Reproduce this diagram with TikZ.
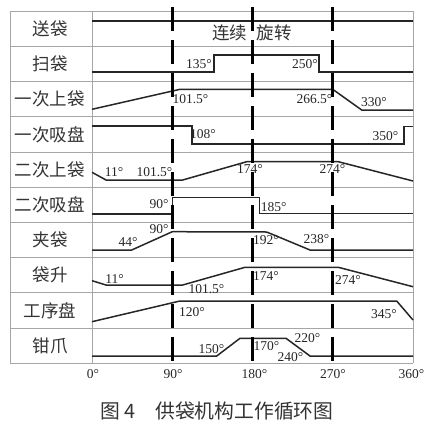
\documentclass[tikz,border=0pt]{standalone}
\usepackage{fontspec}
\setmainfont{Liberation Serif}
\newfontfamily\cjk{Noto Sans CJK SC}
\begin{document}
\begin{tikzpicture}[x=1pt,y=-1pt,
  grid/.style={draw=black!35, line width=0.7pt},
  sig/.style={draw=black!85, line width=1.5pt, line join=miter},
  phase/.style={draw=black, line width=3.2pt, dash pattern=on 24pt off 9pt},
  deg/.style={font=\fontsize{13.5}{14}\selectfont, inner sep=0pt, text=black!85},
  rowlab/.style={font=\cjk\fontsize{17.5}{18}\selectfont, inner sep=0pt, text=black!80},
  caplab/.style={font=\cjk\fontsize{19.8}{21}\selectfont, inner sep=0pt, text=black!80, anchor=west},
]
\useasboundingbox (0,0) rectangle (431,437);
% table grid
\foreach \k in {0,...,10} \draw[grid] (10,{11+35.23*\k}) -- (413,{11+35.23*\k});
\draw[grid] (10,11) -- (10,363.3);
\draw[grid] (92,11) -- (92,363.3);
\draw[grid] (413,11) -- (413,363.3);
% row labels
\foreach \t [count=\i from 0] in {送袋,扫袋,一次上袋,一次吸盘,二次上袋,二次吸盘,夹袋,袋升,工序盘,钳爪}
  \node[rowlab] (row\i) at (50,{11+35.23*(\i+0.5)}) {\t};
% signals
\draw[sig] (92,21) -- (413,21);
\draw[sig] (92,72) -- (214,72) -- (214,55) -- (319,55) -- (319,72) -- (413,72);
\draw[sig] (92,109.3) -- (180,89.3) -- (332.7,89.3) -- (361.7,110) -- (413,110);
\draw[sig] (92,126) -- (192,126) -- (192,144) -- (404,144) -- (404,126.5) -- (413,126.5);
\draw[sig] (92,172.3) -- (106,180) -- (182.7,180) -- (246.7,161.7) -- (338.3,161.7) -- (413,181);
\draw[sig] (92,214) -- (172.3,214) -- (172.3,197.3) -- (259.3,197.3) -- (259.3,213.3) -- (413,213.3);
\draw[sig] (92,250) -- (131.7,250) -- (172.3,231.7) -- (266.7,232) -- (310,250) -- (413,250);
\draw[sig] (92,280.7) -- (106,285) -- (182.7,285) -- (245,267.3) -- (338.3,267.3) -- (413,286.7);
\draw[sig] (92,321.7) -- (180,301) -- (396.7,301) -- (413,320);
\draw[sig] (92,356) -- (216.7,356) -- (240,338.3) -- (286,338.3) -- (310,356) -- (413,356);
% phase lines
\foreach \x in {172.3,252.6,332.3} \draw[phase] (\x,7) -- (\x,368);
% text in rows
\node[rowlab] (cont) at (252,33) {连续\hspace{10pt}旋转};
\node[deg] (a135) at (199,64.5) {135°};
\node[deg] (a250) at (305,64) {250°};
\node[deg] (a1015a) at (190.5,99) {101.5°};
\node[deg] (a2665) at (314.5,98.7) {266.5°};
\node[deg] (a330) at (374,102.5) {330°};
\node[deg] (a108) at (203,134) {108°};
\node[deg] (a350) at (385.5,136) {350°};
\node[deg] (a11a) at (114,172.5) {11°};
\node[deg] (a1015b) at (154.5,172.5) {101.5°};
\node[deg] (a174a) at (250,169.5) {174°};
\node[deg] (a274a) at (332.5,169.5) {274°};
\node[deg] (a90a) at (159,204) {90°};
\node[deg] (a185) at (273.7,207.5) {185°};
\node[deg] (a90b) at (159,229) {90°};
\node[deg] (a44) at (128,242.5) {44°};
\node[deg] (a192) at (266,240) {192°};
\node[deg] (a238) at (316.5,239) {238°};
\node[deg] (a11b) at (114.5,279) {11°};
\node[deg] (a1015c) at (206.5,289) {101.5°};
\node[deg] (a174b) at (266,276) {174°};
\node[deg] (a274b) at (348,280.5) {274°};
\node[deg] (a120) at (192,312.5) {120°};
\node[deg] (a345) at (384,314) {345°};
\node[deg] (a150) at (211.5,349) {150°};
\node[deg] (a170) at (266.5,346) {170°};
\node[deg] (a220) at (307.5,338.5) {220°};
\node[deg] (a240) at (290.5,357.5) {240°};
% axis
\node[deg] (x0) at (93,374) {0°};
\node[deg] (x90) at (173,374) {90°};
\node[deg] (x180) at (254.5,374) {180°};
\node[deg] (x270) at (333,374) {270°};
\node[deg] (x360) at (411.5,374) {360°};
% caption
\node[caplab] (capA) at (100,411) {图\hspace{4pt}4};
\node[caplab] (capB) at (155,411) {供袋机构工作循环图};
\end{tikzpicture}
\end{document}
